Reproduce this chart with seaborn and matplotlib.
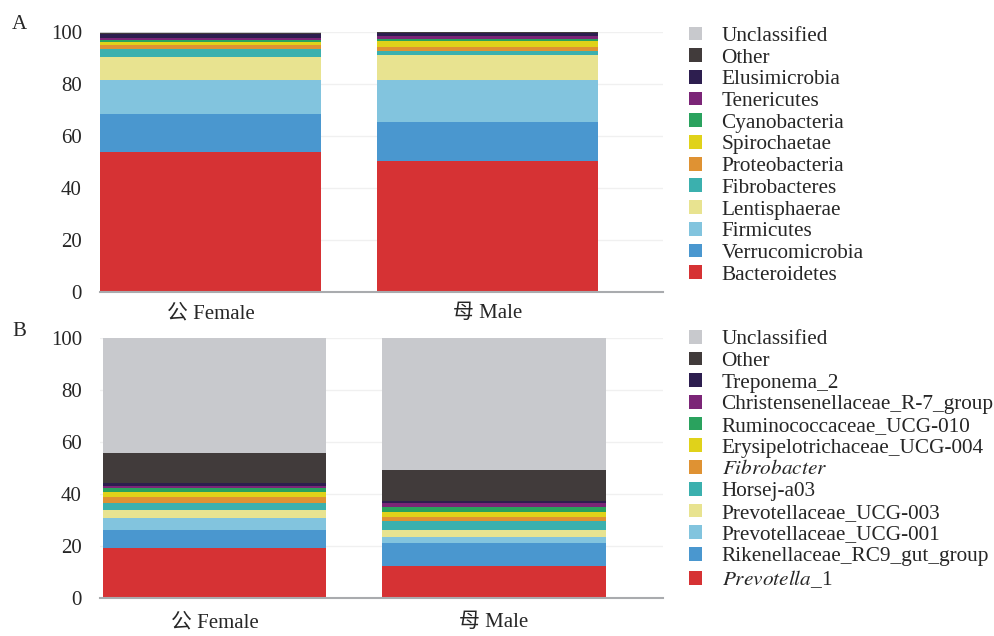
import numpy as np
import pandas as pd
import seaborn as sns
import matplotlib.pyplot as plt
from matplotlib.patches import Patch

samples = ['公 Female', '母 Male']

# phylum level (panel A), bottom -> top
phyla = ['Bacteroidetes', 'Verrucomicrobia', 'Firmicutes', 'Lentisphaerae',
         'Fibrobacteres', 'Proteobacteria', 'Spirochaetae', 'Cyanobacteria',
         'Tenericutes', 'Elusimicrobia', 'Other', 'Unclassified']
phyla_female = [53.8, 14.7, 13.0, 9.0, 2.7, 1.6, 1.3, 0.8, 0.7, 1.5, 0.6, 0.3]
phyla_male = [50.4, 15.0, 16.1, 9.7, 1.5, 1.4, 2.2, 1.1, 0.9, 1.4, 0.2, 0.1]

# genus level (panel B), bottom -> top
genera = [r'$\mathit{Prevotella}$_1', 'Rikenellaceae_RC9_gut_group',
          'Prevotellaceae_UCG-001', 'Prevotellaceae_UCG-003', 'Horsej-a03',
          r'$\mathit{Fibrobacter}$', 'Erysipelotrichaceae_UCG-004',
          'Ruminococcaceae_UCG-010', 'Christensenellaceae_R-7_group',
          'Treponema_2', 'Other', 'Unclassified']
genera_female = [19.1, 7.1, 4.7, 2.9, 2.9, 2.3, 1.8, 1.4, 0.9, 1.2, 11.3, 44.4]
genera_male = [12.3, 9.0, 2.0, 2.9, 3.5, 1.6, 1.7, 1.9, 1.8, 0.7, 11.7, 50.9]

colors = ['#d63234', '#4a97cf', '#82c4de', '#e8e390', '#3bb0ae', '#df9233',
          '#e0d21a', '#2aa25e', '#7b2577', '#2d1e4f', '#413b3b', '#c8c9cd']

sns.set_style('white')
plt.rcParams['font.family'] = ['Liberation Serif', 'Noto Sans CJK SC']
plt.rcParams['mathtext.fontset'] = 'stix'
plt.rcParams['font.size'] = 15

fig = plt.figure(figsize=(9.95, 6.36), dpi=100)
ax_a = fig.add_axes([0.1005, 0.541, 0.566, 0.409])
ax_b = fig.add_axes([0.1005, 0.0597, 0.566, 0.409])


def stacked(ax, names, female, male, xlim, xpad):
    df = pd.DataFrame({'Female': female, 'Male': male}, index=names)
    cum = df.cumsum()
    # draw tallest cumulative first, smaller ones on top
    for i in range(len(names) - 1, -1, -1):
        sns.barplot(x=samples, y=cum.iloc[i].values, color=colors[i],
                    saturation=1, width=0.8, ax=ax, linewidth=0, zorder=2)
    ax.set_ylim(0, 100)
    ax.set_xlim(*xlim)
    ax.set_yticks([0, 20, 40, 60, 80, 100])
    ax.grid(axis='y', color='#f0f0f0', linewidth=1, zorder=0)
    ax.set_axisbelow(True)
    for s in ['top', 'right', 'left']:
        ax.spines[s].set_visible(False)
    ax.spines['bottom'].set_color('#a9abae')
    ax.spines['bottom'].set_linewidth(1.5)
    ax.tick_params(axis='y', length=10, color='#e8e8e8', pad=3, labelsize=15)
    ax.tick_params(axis='x', length=0, pad=xpad, labelsize=15)
    ax.set_xlabel('')
    ax.set_ylabel('')
    handles = [Patch(facecolor=c, edgecolor='none') for c in colors]
    return handles[::-1], list(names)[::-1]


legend_kw = dict(loc='upper left', frameon=False, fontsize=15.3,
                 handlelength=0.62, handleheight=0.62, handletextpad=0.9,
                 labelspacing=0.11, borderpad=0)

h, l = stacked(ax_a, phyla, phyla_female, phyla_male, (-0.40, 1.635), 9)
fig.legend(h, l, bbox_to_anchor=(0.682, 0.975), **legend_kw)

h, l = stacked(ax_b, genera, genera_female, genera_male, (-0.41, 1.606), 11)
fig.legend(h, l, bbox_to_anchor=(0.682, 0.498), **legend_kw)

fig.text(0.012, 0.955, 'A', fontsize=15)
fig.text(0.012, 0.472, 'B', fontsize=15)

fig.savefig('out.png', dpi=100)
